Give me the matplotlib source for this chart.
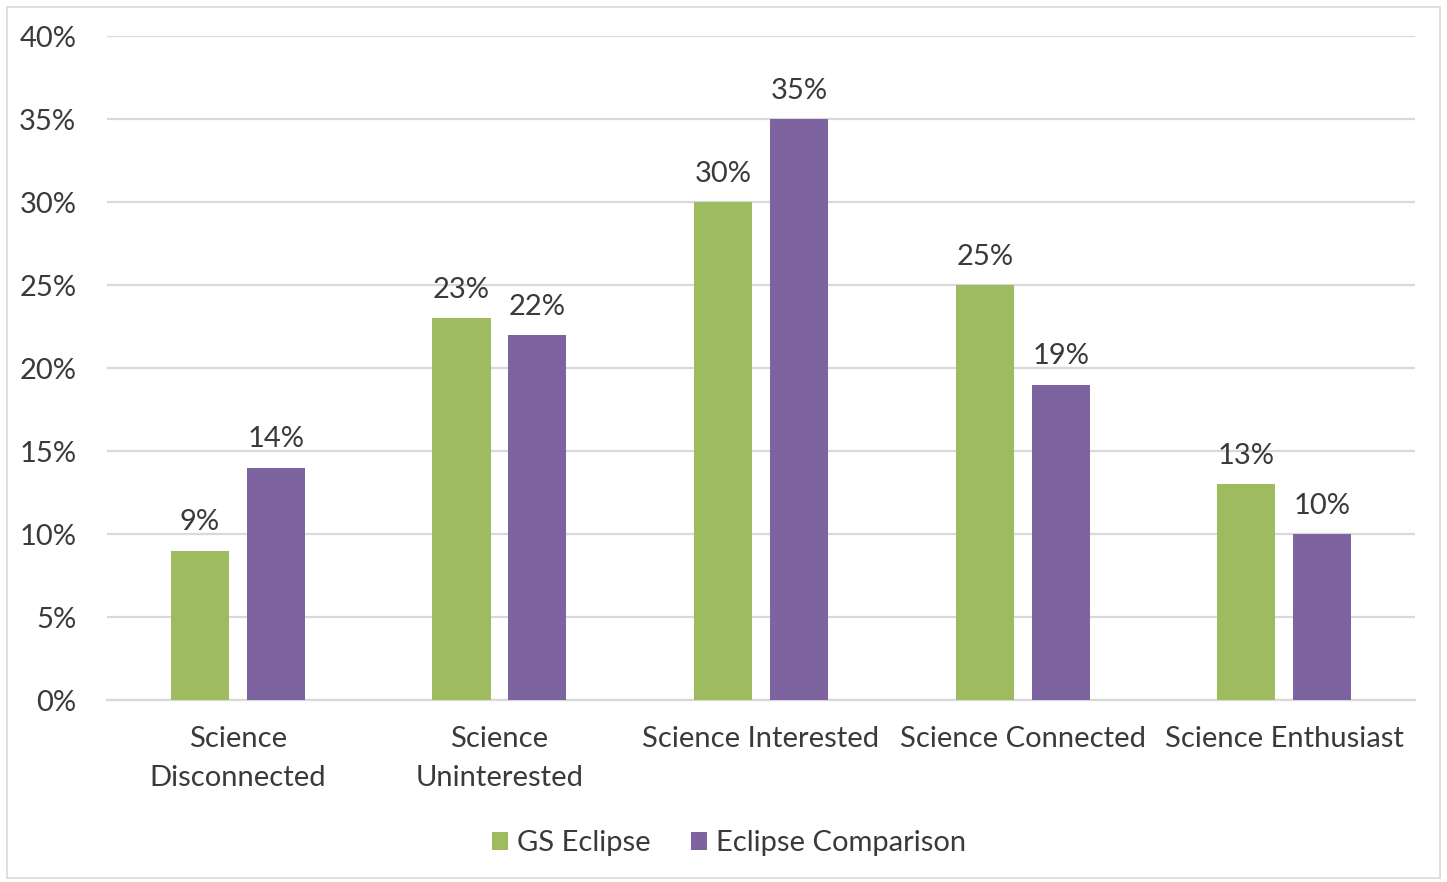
import matplotlib.pyplot as plt
import numpy as np
from matplotlib.patches import Rectangle

categories = ["Science\nDisconnected", "Science\nUninterested", "Science Interested",
              "Science Connected", "Science Enthusiast"]
gs_eclipse = [9, 23, 30, 25, 13]
eclipse_comparison = [14, 22, 35, 19, 10]

colors = {
    "green": "#9FBB5F",
    "purple": "#7D63A0",
    "grid": "#D9D9D9",
    "text": "#3A3A3A",
}

plt.rcParams['font.family'] = ['Lato', 'DejaVu Sans']

fig = plt.figure(figsize=(14.47, 8.82), dpi=100)
ax = fig.add_axes([0.0739, 0.2063, 0.9041, 0.7527])

x = np.arange(len(categories))
w = 0.222
off = 0.145
b1 = ax.bar(x - off, gs_eclipse, width=w, color=colors["green"], label="GS Eclipse", zorder=3)
b2 = ax.bar(x + off, eclipse_comparison, width=w, color=colors["purple"],
            label="Eclipse Comparison", zorder=3)

for bars in (b1, b2):
    for bar in bars:
        h = bar.get_height()
        ax.annotate(f"{h:.0f}%", (bar.get_x() + bar.get_width() / 2, h),
                    xytext=(0, 11), textcoords="offset points", ha="center", va="bottom",
                    fontsize=21, color=colors["text"])

ax.set_xlim(-0.5, len(categories) - 0.5)
ax.set_ylim(0, 40)
ax.set_yticks(np.arange(0, 41, 5))
ax.set_yticklabels([f"{v}%" for v in range(0, 41, 5)])
ax.set_xticks(x)
ax.set_xticklabels(categories, linespacing=1.6)
ax.tick_params(axis="both", length=0, labelsize=21, labelcolor=colors["text"])
ax.tick_params(axis="y", pad=22)
ax.tick_params(axis="x", pad=19)
ax.grid(axis="y", color=colors["grid"], linewidth=1.6, zorder=0)
for s in ("top", "right", "left"):
    ax.spines[s].set_visible(False)
ax.spines["bottom"].set_color(colors["grid"])
ax.spines["bottom"].set_linewidth(1.6)

fig.legend(loc="center", bbox_to_anchor=(0.504, 0.044), ncol=2, frameon=False,
           fontsize=21, labelcolor=colors["text"], handlelength=0.55, handleheight=0.55,
           handletextpad=0.3, columnspacing=1.4)

fig.patches.append(Rectangle((0.005, 0.005), 0.99, 0.987, transform=fig.transFigure,
                             fill=False, edgecolor="#D9D9D9", linewidth=1.2))

fig.savefig("out.png", dpi=100)
